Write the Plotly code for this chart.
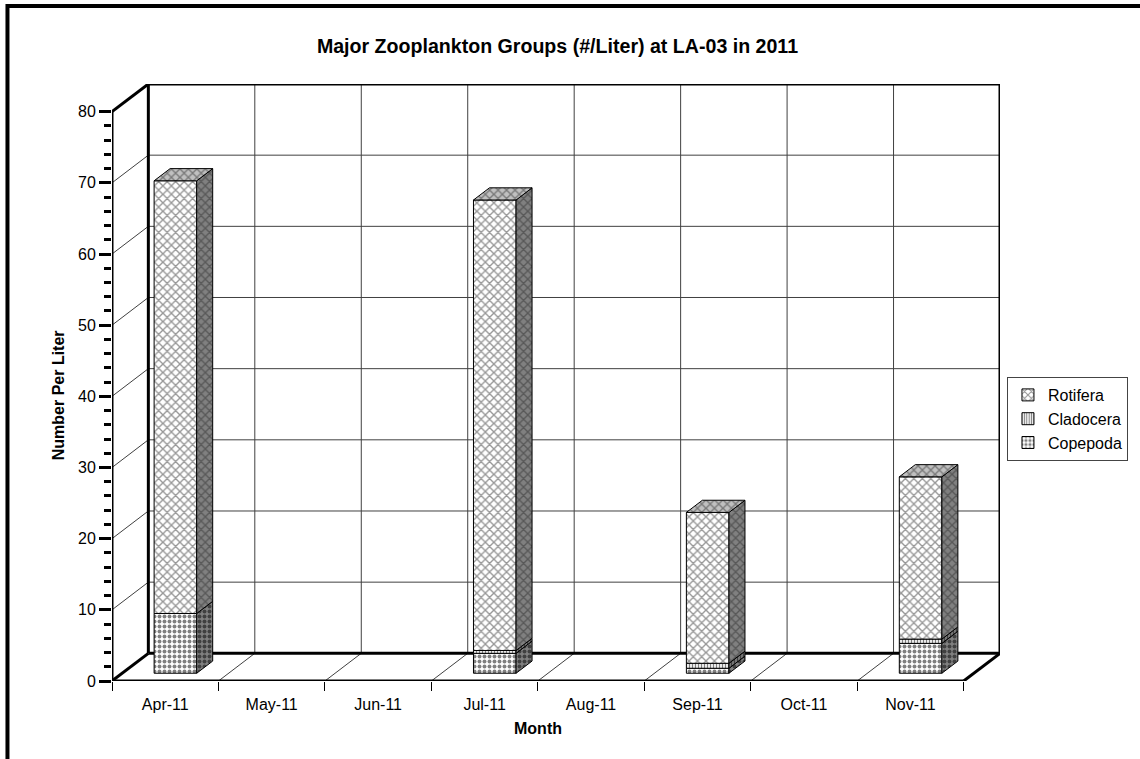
import plotly.graph_objects as go

# ---------------- data ----------------
months = ["Apr-11", "May-11", "Jun-11", "Jul-11", "Aug-11", "Sep-11", "Oct-11", "Nov-11"]
copepoda = [8.4, 0, 0, 2.8, 0, 0.7, 0, 4.2]
cladocera = [0.0, 0, 0, 0.4, 0, 0.7, 0, 0.6]
rotifera = [60.8, 0, 0, 63.3, 0, 21.2, 0, 22.8]
y_major = list(range(0, 81, 10))
y_minor = list(range(0, 81, 2))

# ---------------- geometry / style ----------------
W, Hpx = 1140, 759
PL, PR, PT, PB = 112, 1004, 84, 681          # plot area in pixels
N = len(months)
DX = 0.3415                                   # depth offset in category units
DY = 3.89                                     # depth offset in value units
F0, F1 = 0.28, 0.72                           # bar depth fractions
BW = 0.40                                     # bar width
FONT = "Liberation Sans, Arial, sans-serif"

series = [
    ("Copepoda", copepoda, dict(shape=".", size=5, solidity=0.5, fgcolor="black")),
    ("Cladocera", cladocera, dict(shape="|", size=3, solidity=0.45, fgcolor="black")),
    ("Rotifera", rotifera, dict(shape="x", size=6, solidity=0.4, fgcolor="#303030")),
]

fig = go.Figure()

# ---------------- walls / floor (drawn below traces) ----------------
shapes = []
def seg(x0, y0, x1, y1, w=1, c="#404040"):
    shapes.append(dict(type="line", xref="x", yref="y", x0=x0, y0=y0, x1=x1, y1=y1,
                       line=dict(color=c, width=w), layer="below"))

bounds = [k - 0.5 for k in range(N + 1)]
ytop = y_major[-1]
for v in y_major[1:-1]:
    seg(bounds[0] + DX, v + DY, bounds[-1] + DX, v + DY)
    seg(bounds[0], v, bounds[0] + DX, v + DY)
for b in bounds[1:-1]:
    seg(b + DX, DY, b + DX, ytop + DY)
    seg(b, 0, b + DX, DY)
K = "black"
seg(bounds[0] + DX, DY, bounds[0] + DX, ytop + DY, 3, K)
seg(bounds[-1] + DX, DY, bounds[-1] + DX, ytop + DY, 3, K)
seg(bounds[0] + DX, ytop + DY, bounds[-1] + DX, ytop + DY, 3, K)
seg(bounds[0] + DX, DY, bounds[-1] + DX, DY, 3, K)
seg(bounds[0], 0, bounds[-1], 0, 3, K)
seg(bounds[0], 0, bounds[0], ytop, 3, K)
seg(bounds[0], ytop, bounds[0] + DX, ytop + DY, 3, K)
seg(bounds[0], 0, bounds[0] + DX, DY, 3, K)
seg(bounds[-1], 0, bounds[-1] + DX, DY, 3, K)

def px_x(p): return (p - PL) / (PR - PL)
def px_y(p): return (PB - p) / (PB - PT)
shapes.append(dict(type="path", xref="paper", yref="paper",
                   path=f"M {px_x(7)},{px_y(770)} L {px_x(7)},{px_y(6)} L {px_x(1150)},{px_y(6)}",
                   line=dict(color="black", width=4), layer="above"))

# ---------------- bars ----------------
idx = [i for i in range(N) if sum(s[1][i] for s in series) > 0]
cum = {i: 0.0 for i in idx}
dd = F1 - F0
for name, vals, pat in series:
    xs = [i + F0 * DX for i in idx]
    bases = [F0 * DY + cum[i] for i in idx]
    ys = [vals[i] for i in idx]
    fig.add_trace(go.Bar(
        x=xs, y=ys, base=bases, width=BW, name=name,
        marker=dict(color="white", line=dict(color="black", width=1),
                    pattern=dict(bgcolor="white", **pat)),
        showlegend=True))
    for i, b, v in zip(idx, bases, ys):
        if v <= 0:
            continue
        xr = i + F0 * DX + BW / 2
        px_ = [xr, xr + dd * DX, xr + dd * DX, xr, xr]
        py_ = [b, b + dd * DY, b + v + dd * DY, b + v, b]
        fig.add_trace(go.Scatter(
            x=px_, y=py_, mode="lines", fill="toself", fillcolor="#808080",
            fillpattern=dict(bgcolor="#808080", **pat),
            line=dict(color="black", width=1), showlegend=False, hoverinfo="skip"))
    for i in idx:
        cum[i] += vals[i]

for i in idx:
    top = F0 * DY + cum[i]
    xl = i + F0 * DX - BW / 2
    xr = i + F0 * DX + BW / 2
    px_ = [xl, xr, xr + dd * DX, xl + dd * DX, xl]
    py_ = [top, top, top + dd * DY, top + dd * DY, top]
    fig.add_trace(go.Scatter(
        x=px_, y=py_, mode="lines", fill="toself", fillcolor="#c0c0c0",
        fillpattern=dict(bgcolor="#c0c0c0", **series[-1][2]),
        line=dict(color="black", width=1), showlegend=False, hoverinfo="skip"))

# ---------------- layout ----------------
fig.update_layout(
    width=W, height=Hpx,
    margin=dict(l=PL, r=W - PR, t=PT, b=Hpx - PB, pad=0),
    paper_bgcolor="white", plot_bgcolor="white",
    barmode="overlay",
    font=dict(family=FONT, size=16, color="black"),
    shapes=shapes,
    title=dict(text="<b>Major Zooplankton Groups (#/Liter) at LA-03 in 2011</b>",
               x=px_x(559.5), xref="paper", xanchor="center",
               y=1 - 46 / Hpx, yref="container", yanchor="middle",
               font=dict(family=FONT, size=19.6, color="black")),
    xaxis=dict(range=[bounds[0], bounds[-1] + DX], showgrid=False, zeroline=False,
               showline=False, tickmode="array", tickvals=list(range(N)), ticktext=months,
               ticks="outside", ticklen=9, tickcolor="rgba(0,0,0,0)",
               tickfont=dict(size=16),
               minor=dict(tickvals=bounds, ticks="outside", ticklen=9, tickwidth=1,
                          tickcolor="black", showgrid=False)),
    yaxis=dict(range=[0, ytop + DY], showgrid=False, zeroline=False, showline=False,
               tickmode="array", tickvals=y_major, ticks="outside", ticklen=12,
               tickwidth=2.5, tickcolor="black", tickfont=dict(size=16),
               minor=dict(tickvals=y_minor, ticks="outside", ticklen=7, tickwidth=2.5,
                          tickcolor="black", showgrid=False)),
    legend=dict(x=px_x(1011), y=px_y(377), xanchor="left", yanchor="top",
                traceorder="reversed", bordercolor="#444", borderwidth=1,
                bgcolor="white", font=dict(size=16), itemwidth=30,
                tracegroupgap=0),
    annotations=[
        dict(text="<b>Number Per Liter</b>", xref="paper", yref="paper",
             x=px_x(58), y=px_y(395), textangle=-90, showarrow=False,
             xanchor="center", yanchor="middle", font=dict(size=16)),
        dict(text="<b>Month</b>", xref="x", yref="paper", x=(bounds[0] + bounds[-1]) / 2,
             y=px_y(728), showarrow=False, xanchor="center", yanchor="middle",
             font=dict(size=16)),
    ],
    showlegend=True,
)

fig.write_html("out.html")
